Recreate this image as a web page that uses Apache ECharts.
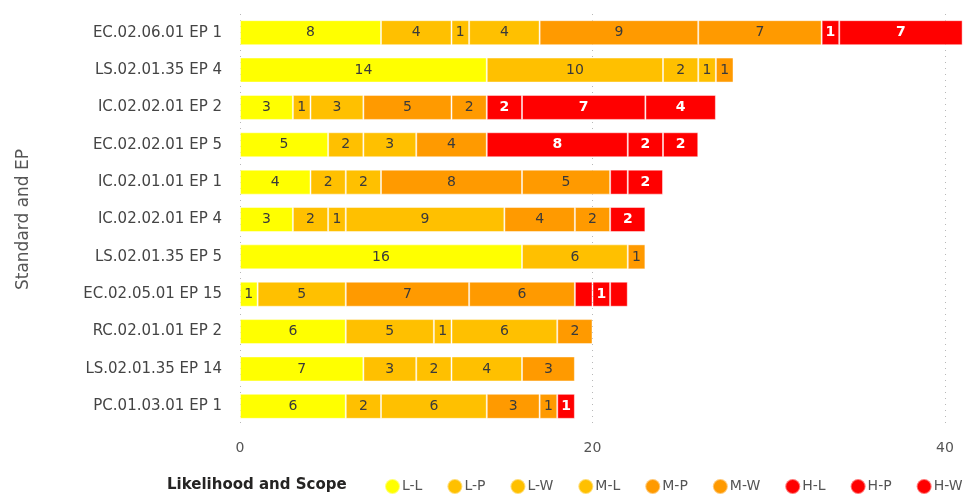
<!DOCTYPE html>
<html>
<head>
<meta charset="utf-8">
<script src="https://cdn.jsdelivr.net/npm/echarts@6/dist/echarts.min.js"></script>
<style>
  html, body { margin: 0; padding: 0; background: #fff; }
  #chart { width: 967px; height: 497px; }
</style>
</head>
<body>
<div id="chart"></div>
<script>
// rows, top to bottom
const categories = [
  'EC.02.06.01 EP 1', 'LS.02.01.35 EP 4', 'IC.02.02.01 EP 2', 'EC.02.02.01 EP 5',
  'IC.02.01.01 EP 1', 'IC.02.02.01 EP 4', 'LS.02.01.35 EP 5', 'EC.02.05.01 EP 15',
  'RC.02.01.01 EP 2', 'LS.02.01.35 EP 14', 'PC.01.03.01 EP 1'
]
const seriesNames = ['L-L', 'L-P', 'L-W', 'M-L', 'M-P', 'M-W', 'H-L', 'H-P', 'H-W']

const LL = [8, 14, 3, 5, 4, 3, 16, 1, 6, 7, 6]
const LP = [4, 10, 1, 2, 2, 2, 6, 5, 5, 3, 2]
const LW = [1, 2, 3, 3, 2, 1, 0, 0, 1, 2, 6]
const ML = [4, 1, 0, 0, 0, 9, 0, 0, 6, 4, 0]
const MP = [9, 1, 5, 4, 8, 4, 1, 7, 2, 3, 3]
const MW = [7, 0, 2, 0, 5, 2, 0, 6, 0, 0, 1]
const HL = [0, 0, 2, 8, 1, 2, 0, 1, 0, 0, 1]
const HP = [1, 0, 7, 2, 0, 0, 0, 1, 0, 0, 0]
const HW = [7, 0, 4, 2, 2, 0, 0, 1, 0, 0, 0]
const values = [LL, LP, LW, ML, MP, MW, HL, HP, HW]

// [row, series] with no data label in the original
const hiddenLabels = [[4, 6], [7, 6], [7, 8]]

const xTicks = [0, 20, 40]

const colors = ['#FFFF00', '#FFC000', '#FFC000', '#FFC000', '#FF9A00', '#FF9A00', '#FF0000', '#FF0000', '#FF0000']
const font = 'DejaVu Sans, sans-serif'

const chart = echarts.init(document.getElementById('chart'))

const series = seriesNames.map((name, s) => {
  const isRed = s >= 6
  return {
    name,
    type: 'bar',
    stack: 'total',
    barWidth: 25,
    clip: false,
    animation: false,
    itemStyle: {
      color: colors[s],
      borderColor: 'rgba(255,255,255,0.45)',
      borderWidth: 1
    },
    label: {
      show: true,
      position: 'inside',
      fontFamily: font,
      fontSize: 14,
      fontWeight: isRed ? 'bold' : 'normal',
      color: isRed ? '#ffffff' : '#3a3a3a',
      formatter: p => p.value
    },
    data: values[s].map((v, r) => {
      if (!v) return '-'
      const hide = hiddenLabels.some(h => h[0] === r && h[1] === s)
      return hide ? { value: v, label: { show: false } } : v
    })
  }
})

const option = {
  animation: false,
  textStyle: { fontFamily: font },
  title: {
    text: 'Likelihood and Scope',
    left: 167,
    top: 478,
    padding: 0,
    textStyle: { fontSize: 15, fontWeight: 'bold', color: '#252423', fontFamily: font }
  },
  legend: {
    left: 384,
    top: 478,
    padding: 0,
    icon: 'circle',
    itemWidth: 15,
    itemHeight: 15,
    itemGap: 24,
    textStyle: { fontSize: 14, color: '#555', fontFamily: font, padding: [0, 0, 0, -3] },
    data: seriesNames
  },
  grid: {
    left: 240,
    right: 22,
    top: 14,
    bottom: 72
  },
  xAxis: {
    type: 'value',
    min: xTicks[0],
    max: xTicks[xTicks.length - 1],
    interval: 20,
    axisLine: { show: false },
    axisTick: { show: false },
    axisLabel: { color: '#555', fontSize: 14, margin: 16, fontFamily: font },
    splitLine: { show: true, lineStyle: { color: '#b8b8b8', type: [1, 5], width: 1 } }
  },
  yAxis: {
    type: 'category',
    inverse: true,
    data: categories,
    name: 'Standard and EP',
    nameLocation: 'middle',
    nameGap: 208,
    nameTextStyle: { fontSize: 17, color: '#555', fontFamily: font },
    axisLine: { show: false },
    axisTick: { show: false },
    axisLabel: { color: '#444', fontSize: 15, margin: 18, fontFamily: font }
  },
  series
}

chart.setOption(option)
</script>
</body>
</html>
